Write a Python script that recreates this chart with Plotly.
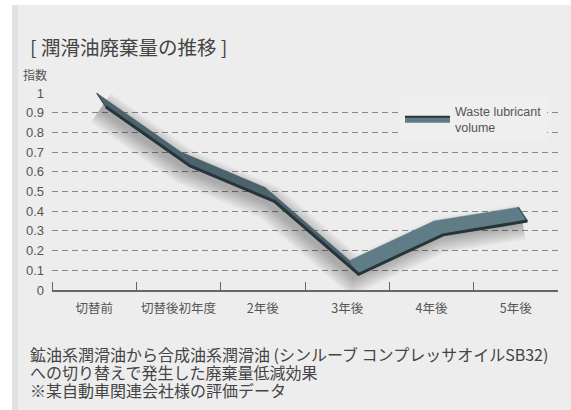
import plotly.graph_objects as go

# ---- data ----
categories = ["切替前", "切替後初年度", "2年後", "3年後", "4年後", "5年後"]
values = [1.0, 0.70, 0.52, 0.15, 0.35, 0.42]
y_ticks = [0, 0.1, 0.2, 0.3, 0.4, 0.5, 0.6, 0.7, 0.8, 0.9, 1]
series_name = "Waste lubricant<br>volume"
title_text = "[ 潤滑油廃棄量の推移 ]"
y_title = "指数"
caption_lines = [
    "鉱油系潤滑油から合成油系潤滑油 (シンルーブ コンプレッサオイルSB32)",
    "への切り替えで発生した廃棄量低減効果",
    "※某自動車関連会社様の評価データ",
]

# ---- layout geometry (px) ----
W, H = 571, 410
ML, MR, MT, MB = 52, 13, 93, 120
PW, PH = W - ML - MR, H - MT - MB

def px_x(px):
    return (px - ML) / PW

def px_y(py):
    return 1 - (py - MT) / PH

# ribbon 3D style offsets (in axis units)
BACK_DX = 0.03
DEPTH_DX = 0.107
DEPTH_DY = 0.07

xs = list(range(len(values)))
back_x = [x + BACK_DX for x in xs]
back_y = list(values)
front_x = [x + BACK_DX + DEPTH_DX for x in xs]
front_y = [v - DEPTH_DY for v in values]

FONT = "Liberation Sans, Noto Sans CJK JP, sans-serif"
JFONT = "Noto Sans CJK JP, sans-serif"

fig = go.Figure()

# soft blurred shadow beneath the ribbon
shadow_x = [x + 0.05 for x in back_x]
shadow_y = [y - 0.075 for y in back_y]
for w in range(36, 4, -3):
    fig.add_trace(go.Scatter(
        x=shadow_x, y=shadow_y, mode="lines",
        line=dict(color="rgba(0,0,0,0.026)", width=w, shape="linear"),
        hoverinfo="skip", showlegend=False))

# ribbon faces, one quad per segment
for i in range(len(values) - 1):
    slope = values[i + 1] - values[i]
    color = "#4d636c" if slope < 0 else "#5f7c87"
    fig.add_trace(go.Scatter(
        x=[back_x[i], back_x[i + 1], front_x[i + 1], front_x[i], back_x[i]],
        y=[back_y[i], back_y[i + 1], front_y[i + 1], front_y[i], back_y[i]],
        mode="lines", fill="toself", fillcolor=color,
        line=dict(color=color, width=0.5),
        hoverinfo="skip", showlegend=False))

# end caps
for i in (0, len(values) - 1):
    fig.add_trace(go.Scatter(
        x=[back_x[i], front_x[i]], y=[back_y[i], front_y[i]], mode="lines",
        line=dict(color="#3a4a51", width=1.2), hoverinfo="skip", showlegend=False))

# dark front edge
fig.add_trace(go.Scatter(
    x=front_x, y=front_y, mode="lines",
    line=dict(color="#27343a", width=3),
    hoverinfo="skip", showlegend=False))

# legend entry
fig.add_trace(go.Scatter(
    x=[None], y=[None], mode="lines", fill="toself", fillcolor="#5f7c87",
    line=dict(color="#27343a", width=2), name=series_name, showlegend=True))

fig.update_layout(
    width=W, height=H,
    margin=dict(l=ML, r=MR, t=MT, b=MB),
    paper_bgcolor="#ededed", plot_bgcolor="rgba(0,0,0,0)",
    font=dict(family=FONT, size=12, color="#555555"),
    showlegend=True,
    legend=dict(x=px_x(400), y=px_y(96), xanchor="left", yanchor="top",
                bgcolor="#efefef", font=dict(size=12.5, color="#555555"),
                itemwidth=45),
    xaxis=dict(
        range=[-0.5, len(categories) - 0.5],
        tickvals=xs, ticktext=categories, ticks="",
        tickfont=dict(family=JFONT, size=12.5, color="#555555"),
        showgrid=False, zeroline=False,
        showline=True, linecolor="#666666", linewidth=1.5,
        minor=dict(tickvals=[x - 0.5 for x in xs], ticks="inside",
                   ticklen=8, tickcolor="#666666", tickwidth=1.2, showgrid=False),
        ticklabelstandoff=6,
    ),
    yaxis=dict(
        range=[0, 1.0],
        tickvals=y_ticks, ticks="",
        showgrid=True, gridcolor="#888888", griddash="6px,4px", gridwidth=1,
        zeroline=False, showline=False,
        tickfont=dict(size=13, color="#555555"),
        ticklabelstandoff=7,
    ),
    shapes=[
        # white outer strips framing the panel
        dict(type="rect", xref="paper", yref="paper",
             x0=px_x(0), x1=px_x(W), y0=px_y(5), y1=px_y(0),
             fillcolor="#ffffff", line=dict(width=0), layer="below"),
        dict(type="rect", xref="paper", yref="paper",
             x0=px_x(0), x1=px_x(12), y0=px_y(H), y1=px_y(0),
             fillcolor="#ffffff", line=dict(width=0), layer="below"),
        # gray inner edge shading of the panel
        dict(type="rect", xref="paper", yref="paper",
             x0=px_x(12), x1=px_x(18), y0=px_y(H), y1=px_y(5),
             fillcolor="#e2e2e2", line=dict(width=0), layer="below"),
    ],
)

annotations = [
    dict(text=title_text, x=px_x(28), y=px_y(47), xanchor="left", yanchor="middle",
         font=dict(family=JFONT, size=19.5, color="#444444")),
    dict(text=y_title, x=px_x(21), y=px_y(74), xanchor="left", yanchor="middle",
         font=dict(family=JFONT, size=12, color="#555555")),
]
for k, line in enumerate(caption_lines):
    annotations.append(dict(
        text=line, x=px_x(28), y=px_y(354 + 18 * k), xanchor="left", yanchor="middle",
        font=dict(family=JFONT, size=16, color="#444444")))
for a in annotations:
    a.update(xref="paper", yref="paper", showarrow=False)
fig.update_layout(annotations=annotations)

fig.write_html(
    "out.html",
    config={"displayModeBar": False},
    post_script=(
        "document.body.style.margin='0px';"
        "document.body.style.overflow='hidden';"
        "document.documentElement.style.overflow='hidden';"
    ),
)
